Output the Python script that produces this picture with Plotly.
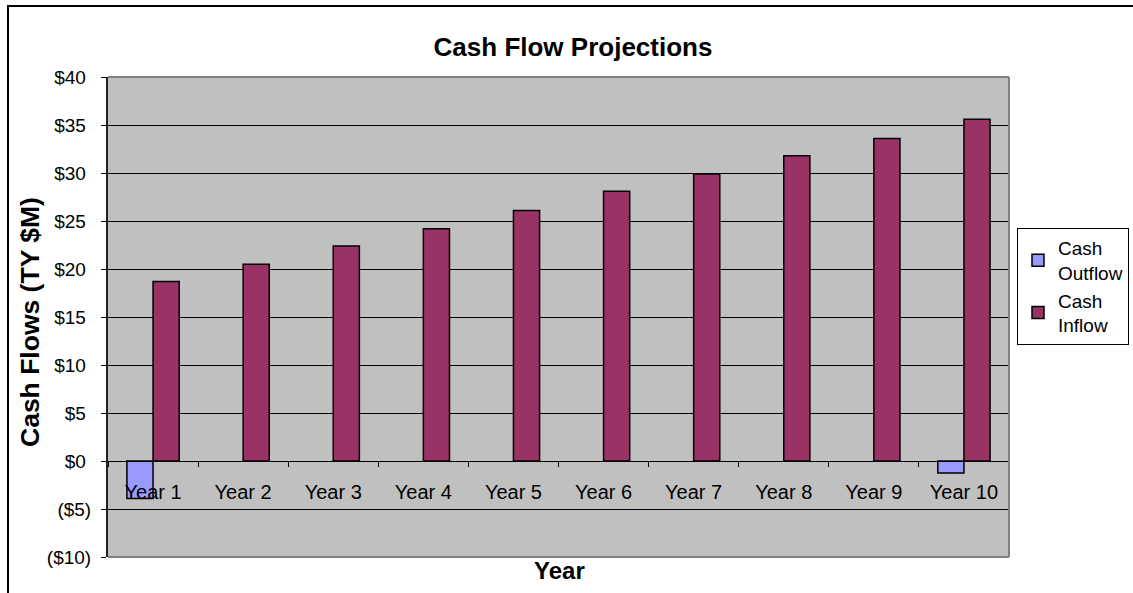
import plotly.graph_objects as go

years = ["Year 1", "Year 2", "Year 3", "Year 4", "Year 5",
         "Year 6", "Year 7", "Year 8", "Year 9", "Year 10"]
cash_outflow = [-3.9, None, None, None, None, None, None, None, None, -1.25]
cash_inflow = [18.7, 20.5, 22.4, 24.2, 26.1, 28.1, 29.9, 31.8, 33.6, 35.6]
y_tick_values = [-10, -5, 0, 5, 10, 15, 20, 25, 30, 35, 40]
y_tick_labels = ["($10)", "($5)", "$0\u00a0", "$5\u00a0", "$10\u00a0", "$15\u00a0",
                 "$20\u00a0", "$25\u00a0", "$30\u00a0", "$35\u00a0", "$40\u00a0"]

W, H = 1133, 593
L, R, T, B = 108, 124, 77, 36
PW, PH = W - L - R, H - T - B


def px_x(px):
    return (px - L) / PW


def px_y(py):
    return 1 - (py - T) / PH


FONT = "Arial, Liberation Sans, sans-serif"

fig = go.Figure()
fig.add_trace(go.Bar(
    x=years, y=cash_outflow, name="Cash<br>Outflow",
    marker=dict(color="#9999FF", line=dict(color="black", width=1.5)),
))
fig.add_trace(go.Bar(
    x=years, y=cash_inflow, name="Cash<br>Inflow",
    marker=dict(color="#993366", line=dict(color="black", width=1.5)),
))

fig.update_layout(
    width=W, height=H,
    margin=dict(l=L, r=R, t=T, b=B, autoexpand=False),
    paper_bgcolor="white",
    plot_bgcolor="#C0C0C0",
    font=dict(family=FONT, color="black", size=19),
    barmode="group", bargap=0.42, bargroupgap=0,
    title=dict(text="<b>Cash Flow Projections</b>", font=dict(size=26, family=FONT, color="black"),
               x=573 / W, xref="container", xanchor="center",
               y=1 - 47 / H, yref="container", yanchor="middle"),
    legend=dict(x=px_x(1017), y=px_y(228), xanchor="left", yanchor="top",
                bordercolor="black", borderwidth=1, bgcolor="white",
                font=dict(size=19, family=FONT, color="black")),
    showlegend=True,
)

fig.update_xaxes(
    type="category", range=[-0.5, 9.5],
    anchor="free", position=0.2,
    showline=True, linecolor="black", linewidth=1,
    ticks="outside", ticklen=5, tickcolor="black", tickwidth=1,
    tickson="boundaries", showgrid=False,
    tickfont=dict(size=20, family=FONT, color="black"),
    ticklabelstandoff=13,
)
fig.update_yaxes(
    range=[-10, 40], tickvals=y_tick_values, ticktext=y_tick_labels,
    showgrid=True, gridcolor="black", gridwidth=1, zeroline=False,
    showline=True, linecolor="#222222", linewidth=2,
    ticks="outside", ticklen=5, tickcolor="black", tickwidth=1,
    tickfont=dict(size=19, family=FONT, color="black"),
    ticklabelstandoff=6,
)

# plot-area border (top, right, bottom)
for x0, y0, x1, y1 in [(0, 1, 1, 1), (1, 0, 1, 1), (0, 0, 1, 0)]:
    fig.add_shape(type="line", xref="paper", yref="paper", x0=x0, y0=y0, x1=x1, y1=y1,
                  line=dict(color="#808080", width=2), layer="above")

# chart outer border
fig.add_shape(type="rect", xref="paper", yref="paper",
              x0=px_x(8), y0=px_y(600), x1=px_x(1140), y1=px_y(6),
              line=dict(color="black", width=2), layer="above")

fig.add_annotation(text="<b>Cash Flows (TY $M)</b>", textangle=-90,
                   xref="paper", yref="paper", x=px_x(30), y=px_y(322),
                   xanchor="center", yanchor="middle", showarrow=False,
                   font=dict(size=26.5, family=FONT, color="black"))
fig.add_annotation(text="<b>Year</b>",
                   xref="paper", yref="paper", x=px_x(559), y=px_y(570),
                   xanchor="center", yanchor="middle", showarrow=False,
                   font=dict(size=24, family=FONT, color="black"))

fig.write_html("out.html")
